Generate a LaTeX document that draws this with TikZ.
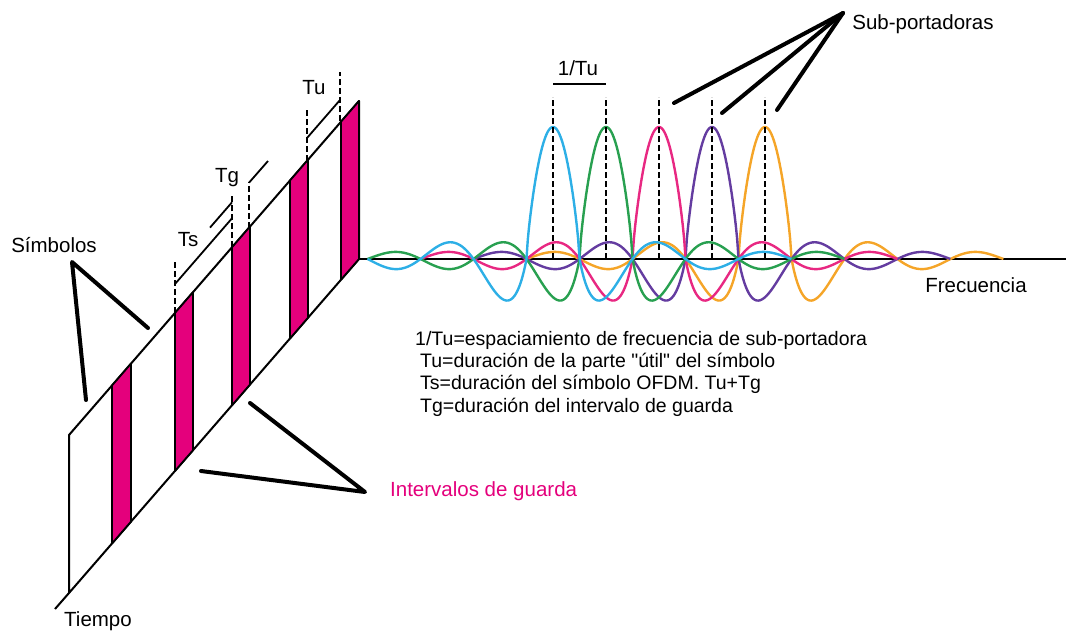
\documentclass[tikz,border=0pt]{standalone}
\usepackage{fontspec}
\setmainfont{Liberation Sans}[Ligatures=TeXOff]

% one sub-carrier: rounded main lobe, decaying side lobes
\pgfmathdeclarefunction{lobe}{1}{%
  \pgfmathparse{abs(#1)<0.5 ? (abs(cos(180*#1))+0.0001)^0.75 : cos(180*#1)*0.29/(abs(#1)+0.001)^1.22}%
}

\begin{document}
\begin{tikzpicture}[x=1pt, y=-1pt, line join=round,
  lbl/.style={font=\fontsize{20.5}{24}\selectfont, inner sep=0pt},
  legend/.style={font=\fontsize{19.5}{23}\selectfont, inner sep=0pt, anchor=west},
  pointer/.style={line width=4pt, line cap=round},
  edge/.style={line width=2pt},
  dim/.style={line width=1.8pt},
  guide/.style={line width=1.8pt, dash pattern=on 6pt off 3pt},
  carrier/.style={line width=2.4pt}]

\definecolor{guardcolor}{RGB}{228, 0, 124}
\definecolor{bluecolor}{RGB}{45, 175, 230}
\definecolor{greencolor}{RGB}{40, 160, 80}
\definecolor{pinkcolor}{RGB}{232, 40, 130}
\definecolor{purplecolor}{RGB}{100, 60, 160}
\definecolor{orangecolor}{RGB}{245, 165, 40}

\useasboundingbox (0,0) rectangle (1066,635);

% time strip
\draw[edge] (69,435) -- (359,101) -- (359,259) -- (69,593) -- cycle;
\draw[edge] (69,593) -- (55,609);

% guard intervals
\filldraw[fill=guardcolor, dim] (112,385.5) -- (131,363.6) -- (131,521.6) -- (112,543.5) -- cycle;
\filldraw[fill=guardcolor, dim] (175,312.9) -- (193,292.2) -- (193,450.2) -- (175,470.9) -- cycle;
\filldraw[fill=guardcolor, dim] (232,247.3) -- (250,226.5) -- (250,384.5) -- (232,405.3) -- cycle;
\filldraw[fill=guardcolor, dim] (290,180.5) -- (308,159.7) -- (308,317.7) -- (290,338.5) -- cycle;
\filldraw[fill=guardcolor, dim] (341,121.7) -- (359,101) -- (359,259) -- (341,279.7) -- cycle;

% Ts
\draw[guide] (175,312.9) -- (175,262);
\draw[dim] (175,284) -- (232,218.3);
\node[lbl] (ts) at (188,240) {Ts};

% Tg
\draw[guide] (232,247.3) -- (232,195);
\draw[guide] (249,227.7) -- (249,182);
\draw[dim] (210,227.6) -- (232,202.3);
\draw[dim] (249,182.7) -- (268,161);
\node[lbl] (tg) at (227,178) {Tg};

% Tu
\draw[guide] (307,160.9) -- (307,110);
\draw[guide] (340,121) -- (340,72);
\draw[dim] (307,138) -- (340,100);
\node[lbl] (tu) at (314,88) {Tu};

% frequency axis
\draw[edge] (359,259) -- (1066,259);

% sub-carriers
\draw[carrier, orangecolor] plot[domain=-4.5:4.5, samples=361] ({765+53*\x}, {259-132*lobe(\x)});
\draw[carrier, purplecolor] plot[domain=-4.5:4.5, samples=361] ({712+53*\x}, {259-132*lobe(\x)});
\draw[carrier, pinkcolor] plot[domain=-4.5:4.5, samples=361] ({659+53*\x}, {259-132*lobe(\x)});
\draw[carrier, greencolor] plot[domain=-4.5:4.5, samples=361] ({606+53*\x}, {259-132*lobe(\x)});
\draw[carrier, bluecolor] plot[domain=-3.5:4.5, samples=321] ({553+53*\x}, {259-132*lobe(\x)});

% peak markers
\draw[guide] (553,259) -- (553,97);
\draw[guide] (606,259) -- (606,97);
\draw[guide] (659,259) -- (659,97);
\draw[guide] (712,259) -- (712,97);
\draw[guide] (765,259) -- (765,97);
\draw[dim] (553,84) -- (606,84);
\node[lbl] (spacing) at (578,68) {1/Tu};

% labels and pointers
\node[lbl] (sym) at (54,245) {Símbolos};
\coordinate (symtip) at (72,262);
\coordinate (symA) at (148,328);
\coordinate (symB) at (86,400);
\draw[pointer] (symA) -- (symtip) -- (symB);

\node[lbl] (sub) at (923,24) {Sub-portadoras};
\coordinate (subtip) at (843,13);
\coordinate (subA) at (674,103);
\coordinate (subB) at (722,113);
\coordinate (subC) at (777,110);
\draw[pointer] (subtip) -- (subA);
\draw[pointer] (subtip) -- (subB);
\draw[pointer] (subtip) -- (subC);

\node[lbl, text=guardcolor, anchor=west] (guard) at (390,491) {Intervalos de guarda};
\coordinate (guardtip) at (365,492);
\coordinate (guardA) at (250,403);
\coordinate (guardB) at (201,471);
\draw[pointer] (guardA) -- (guardtip) -- (guardB);

\node[lbl] (freq) at (976,285) {Frecuencia};
\node[lbl] (time) at (98,621) {Tiempo};

% legend
\node[legend] (leg1) at (415,340) {1/Tu=espaciamiento de frecuencia de sub-portadora};
\node[legend] (leg2) at (420,362) {Tu=duración de la parte "útil" del símbolo};
\node[legend] (leg3) at (420,384) {Ts=duración del símbolo OFDM. Tu+Tg};
\node[legend] (leg4) at (420,407) {Tg=duración del intervalo de guarda};

\end{tikzpicture}
\end{document}
